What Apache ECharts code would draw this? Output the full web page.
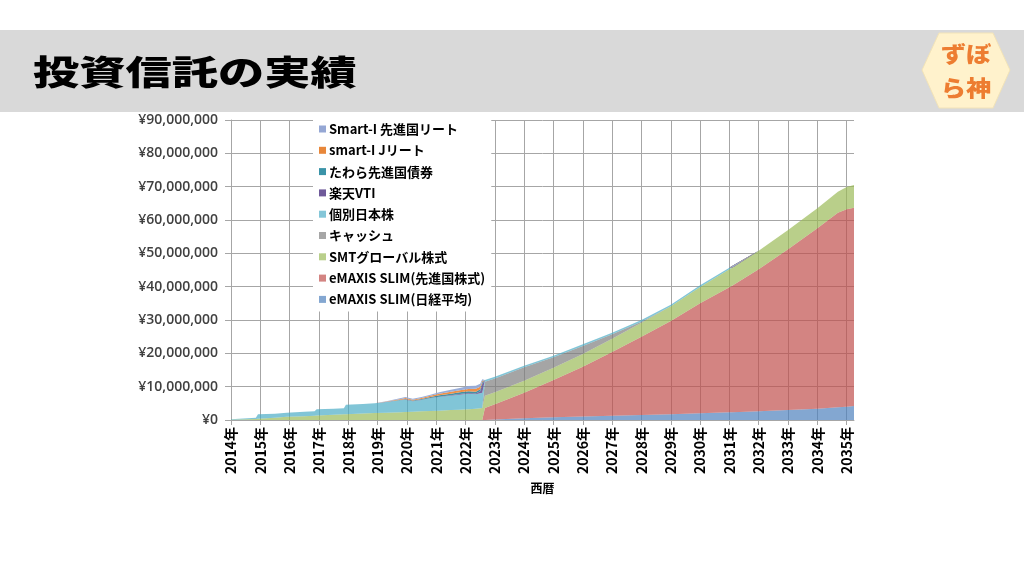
<!DOCTYPE html>
<html><head><meta charset="utf-8">
<script src="https://cdn.jsdelivr.net/npm/echarts@6/dist/echarts.min.js"></script>
<style>html,body{margin:0;padding:0;background:#fff}#c{width:1024px;height:576px}</style>
</head><body><div id="c"></div>
<script>
// x positions as decimal years
const years = [2014.0, 2014.85, 2014.92, 2015.5, 2015.9, 2016.5, 2016.85, 2016.92, 2017.5, 2017.85, 2017.92, 2018.5, 2018.9, 2019.3, 2019.8, 2019.95, 2020.2, 2020.5, 2020.8, 2021.1, 2021.5, 2021.8, 2022.1, 2022.35, 2022.5, 2022.57, 2022.66, 2023, 2024, 2025, 2026, 2027, 2028, 2029, 2030, 2031, 2031.08, 2031.12, 2032, 2033, 2034, 2034.7, 2035, 2035.25];
// values in millions of yen
const nikkei  = [0,0,0,0,0,0,0,0,0,0,0,0,0,0,0,0,0,0,0,0,0,0,0,0,0,0, 0,0.15,0.5,0.8,1.05,1.3,1.5,1.7,2.0,2.3,2.32,2.33,2.6,3.0,3.4,3.8,4.0,4.2];
const senshin = [0,0,0,0,0,0,0,0,0,0,0,0,0,0,0,0,0,0,0,0,0,0,0,0,0,0, 3.6,4.6,7.7,11.2,14.95,19.1,23.5,28.0,33.0,37.5,37.9,38.1,42.6,48.2,54.1,58.4,59.2,59.5];
const smt     = [0.05,0.3,0.4,0.7,0.95,1.15,1.3,1.35,1.55,1.7,1.75,1.95,2.1,2.2,2.35,2.4,2.45,2.6,2.7,2.8,3.0,3.1,3.2,3.35,3.5,3.6, 3.7,3.6,3.6,3.7,3.8,4.0,4.2,4.4,4.9,5.4,5.4,5.4,5.6,5.8,6.0,6.3,6.7,6.8];
const cash    = [0,0,0,0,0,0,0,0,0,0,0,0,0,0,0,0,0,0,0,0,0,0,0,0,0,0, 4.2,4.1,4.0,3.1,2.4,1.3,0.3,0,0,0,0,0,0,0,0,0,0,0];
const kobetsu = [0.2,0.4,1.35,1.15,1.25,1.3,1.3,1.85,1.8,1.8,2.85,2.85,2.9,3.2,3.55,3.7,3.15,3.4,3.8,4.1,4.3,4.5,4.7,4.35,4.5,4.6, 0.5,0.5,0.5,0.5,0.5,0.5,0.5,0.5,0.5,0.5,0.5,0,0,0,0,0,0,0];
const vti     = [0,0,0,0,0,0,0,0,0,0,0,0,0,0.05,0.05,0.1,0.1,0.1,0.1,0.1,0.15,0.2,0.2,0.25,0.6,2.6, 0,0,0,0,0,0,0,0,0,0,0,0,0,0,0,0,0,0];
const tawara  = [0,0,0,0,0,0,0,0,0,0,0,0,0,0.05,0.1,0.1,0.15,0.2,0.3,0.4,0.45,0.5,0.5,0.55,0.6,0.5, 0,0,0,0,0,0,0,0,0,0,0,0,0,0,0,0,0,0];
const jreit   = [0,0,0,0,0,0,0,0,0,0,0,0,0,0.05,0.25,0.3,0.25,0.3,0.4,0.5,0.6,0.6,0.7,0.9,0.8,0.4, 0,0,0,0,0,0,0,0,0,0,0,0,0,0,0,0,0,0];
const sreit   = [0,0,0,0,0,0,0,0,0,0,0,0,0,0.05,0.3,0.3,0.3,0.3,0.3,0.4,0.6,0.7,0.9,0.9,0.9,0.5, 0,0,0,0,0,0,0,0,0,0,0,0,0,0,0,0,0,0];

const seriesNames = ['eMAXIS SLIM(日経平均)','eMAXIS SLIM(先進国株式)','SMTグローバル株式','キャッシュ','個別日本株','楽天VTI','たわら先進国債券','smart-I Jリート','Smart-I 先進国リート'];
const seriesValues = [nikkei, senshin, smt, cash, kobetsu, vti, tawara, jreit, sreit];
const legendOrder = ['Smart-I 先進国リート','smart-I Jリート','たわら先進国債券','楽天VTI','個別日本株','キャッシュ','SMTグローバル株式','eMAXIS SLIM(先進国株式)','eMAXIS SLIM(日経平均)'];
const yTicks = {min: 0, max: 90000000, step: 10000000};
const xRange = {min: 2014, max: 2035.25};

// decimal year -> timestamp (local time)
function toTime(y) {
  const yr = Math.floor(y);
  const a = new Date(yr, 0, 1).getTime(), b = new Date(yr + 1, 0, 1).getTime();
  return a + (y - yr) * (b - a);
}

const styles = [
  {area:'#4F81BD', op:0.7, legend:'#84A7D1'},
  {area:'#C0504D', op:0.7, legend:'#D38482'},
  {area:'#9BBB59', op:0.7, legend:'#B9CF8B'},
  {area:'#7F7F7F', op:0.7, legend:'#A6A6A6'},
  {area:'#4BACC6', op:0.7, legend:'#84C6D8'},
  {area:'#6A5496', op:0.9, legend:'#6F5A9A'},
  {area:'#31849B', op:0.9, legend:'#3A93A8'},
  {area:'#EE8A3C', op:0.95, legend:'#E8873A'},
  {area:'#93A9D6', op:0.95, legend:'#95A7D4'}
];

const series = seriesNames.map((name, i) => ({
  name, type:'line', stack:'total', showSymbol:false, symbol:'none',
  lineStyle:{width:0}, itemStyle:{color: styles[i].legend},
  areaStyle:{color: styles[i].area, opacity: styles[i].op},
  emphasis:{disabled:true},
  data: years.map((x, k) => [toTime(x), seriesValues[i][k] * 1e6])
}));

const YEAR = 365 * 24 * 3600 * 1000;
const chart = echarts.init(document.getElementById('c'), null, {renderer:'canvas'});
chart.setOption({
  animation:false,
  backgroundColor:'#ffffff',
  grid:{left:231, right:170, top:120, bottom:156},
  xAxis:{
    type:'time', min:toTime(xRange.min), max:toTime(xRange.max),
    minInterval: YEAR, maxInterval: YEAR * 1.01,
    name:'西暦', nameLocation:'middle', nameGap:62,
    nameTextStyle:{fontSize:12, fontWeight:'bold', color:'#000', fontFamily:'Noto Sans CJK JP'},
    axisLine:{show:true, lineStyle:{color:'#A6A6A6'}},
    axisTick:{show:true, length:5, lineStyle:{color:'#A6A6A6'}},
    axisLabel:{rotate:90, margin:7, fontSize:14, fontWeight:'bold', color:'#000', fontFamily:'Noto Sans CJK JP',
      showMaxLabel:false, hideOverlap:false,
      formatter: v => { const d = new Date(v); return (d.getMonth() === 0 && d.getDate() === 1) ? d.getFullYear() + '年' : ''; }},
    splitLine:{show:true, showMaxLine:false, lineStyle:{color:'#A6A6A6', width:1}}
  },
  yAxis:{
    type:'value', min:yTicks.min, max:yTicks.max, interval:yTicks.step,
    axisLine:{show:true, lineStyle:{color:'#A6A6A6'}},
    axisTick:{show:true, length:6, lineStyle:{color:'#A6A6A6'}},
    axisLabel:{margin:13, fontSize:14, fontWeight:600, color:'#404040', fontFamily:'Open Sans',
      formatter: v => '¥' + v.toLocaleString('en-US')},
    splitLine:{show:true, lineStyle:{color:'#A6A6A6', width:1}}
  },
  legend:{
    data: legendOrder, orient:'vertical', left:313, top:117,
    backgroundColor:'#ffffff', padding:[5,6,5,6],
    icon:'rect', itemWidth:7, itemHeight:7, itemGap:7.3,
    textStyle:{fontSize:13, fontWeight:'bold', color:'#000', fontFamily:'Noto Sans CJK JP', lineHeight:14, padding:[0,0,0,-2]}
  },
  graphic:[
    {type:'rect', shape:{x:0, y:30, width:1024, height:82}, style:{fill:'#D9D9D9'}, z:0},
    {type:'text', x:33, y:72, scaleX:1.36, scaleY:1, style:{text:'投資信託の実績', x:0, y:0, fill:'#000', font:'900 34px "Noto Sans CJK JP"', textAlign:'left', textVerticalAlign:'middle'}, z:1},
    {type:'polygon', shape:{points:[[922,70],[939,33],[993,33],[1010,70],[993,108],[939,108]]}, style:{fill:'#FFF2CC', stroke:'#F2E3B8', lineWidth:1}, z:1},
    {type:'text', x:966, y:54, scaleX:1.15, style:{text:'ずぼ', x:0, y:0, fill:'#ED7D31', font:'900 22px "Noto Sans CJK JP"', textAlign:'center', textVerticalAlign:'middle'}, z:2},
    {type:'text', x:966, y:88, scaleX:1.15, style:{text:'ら神', x:0, y:0, fill:'#ED7D31', font:'900 22px "Noto Sans CJK JP"', textAlign:'center', textVerticalAlign:'middle'}, z:2}
  ],
  series
});
</script></body></html>
